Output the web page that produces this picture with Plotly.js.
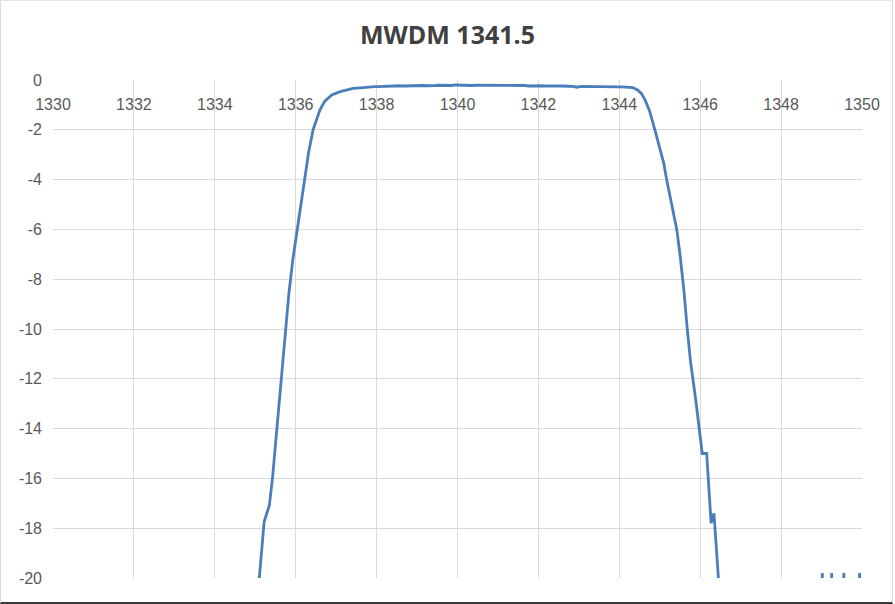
<!DOCTYPE html>
<html>
<head>
<meta charset="utf-8">
<script src="https://cdn.plot.ly/plotly-3.0.1.min.js"></script>
<style>
  html, body { margin: 0; padding: 0; background: #fff; }
  #wrap { position: relative; width: 895px; height: 604px; }
  #chart { width: 895px; height: 604px; }
  #frame { position: absolute; left: 0; top: 0; width: 893px; height: 604px;
           border-left: 1px solid #d9d9d9; border-right: 1px solid #d9d9d9; border-top: 1px solid #e6e6e6;
           border-bottom: 2px solid #3a3a3a; pointer-events: none; box-sizing: border-box; }
</style>
</head>
<body>
<div id="wrap"><div id="chart"></div><div id="frame"></div></div>
<script>
// Wavelength (nm)
const wavelength = [
  1335.00, 1335.10, 1335.22, 1335.35, 1335.43, 1335.55, 1335.65, 1335.74, 1335.83, 1335.93,
  1336.03, 1336.13, 1336.21, 1336.32, 1336.43, 1336.52, 1336.60, 1336.72, 1336.89, 1337.10,
  1337.25, 1337.42, 1337.60, 1337.70, 1337.84, 1337.95, 1338.05, 1338.15, 1338.25, 1338.35,
  1338.45, 1338.55, 1338.65, 1338.75, 1338.85, 1338.95, 1339.05, 1339.15, 1339.25, 1339.35,
  1339.45, 1339.55, 1339.65, 1339.75, 1339.85, 1339.95, 1340.05, 1340.15, 1340.25, 1340.35,
  1340.45, 1340.55, 1340.65, 1340.75, 1340.85, 1340.95, 1341.05, 1341.15, 1341.25, 1341.35,
  1341.45, 1341.55, 1341.65, 1341.75, 1341.85, 1341.95, 1342.05, 1342.15, 1342.25, 1342.35,
  1342.45, 1342.55, 1342.65, 1342.75, 1342.85, 1342.95, 1343.05, 1343.15, 1343.25, 1343.35,
  1343.45, 1343.55, 1343.65, 1343.75, 1343.85, 1343.95, 1344.05, 1344.15, 1344.25, 1344.34,
  1344.45, 1344.55, 1344.65, 1344.75, 1344.88,
  1345.00, 1345.10, 1345.17, 1345.30, 1345.42, 1345.50, 1345.60, 1345.68, 1345.76, 1345.89,
  1345.97, 1346.05, 1346.16, 1346.27, 1346.34, 1346.45, 1346.50,
  1349.00, 1349.02, 1349.04, 1349.23, 1349.25, 1349.27, 1349.53, 1349.55, 1349.57, 1349.92, 1349.94, 1349.96
];
// Insertion loss (dB)
const loss = [
  -25.0, -20.0, -17.74, -17.07, -15.93, -13.65, -11.8, -10.0, -8.6, -7.2,
  -6.1, -4.82, -4.0, -2.9, -2.0, -1.55, -1.2, -0.85, -0.6, -0.47,
  -0.40, -0.34, -0.32, -0.30, -0.29, -0.27, -0.27, -0.26, -0.26, -0.25,
  -0.25, -0.23, -0.24, -0.23, -0.22, -0.23, -0.22, -0.22, -0.23, -0.21,
  -0.22, -0.21, -0.22, -0.21, -0.22, -0.20, -0.21, -0.21, -0.20, -0.22,
  -0.21, -0.21, -0.22, -0.20, -0.21, -0.22, -0.21, -0.22, -0.21, -0.23,
  -0.22, -0.23, -0.22, -0.24, -0.23, -0.24, -0.23, -0.24, -0.23, -0.25,
  -0.24, -0.24, -0.26, -0.25, -0.26, -0.29, -0.26, -0.27, -0.26, -0.27,
  -0.27, -0.27, -0.28, -0.27, -0.28, -0.28, -0.28, -0.28, -0.29, -0.31,
  -0.40, -0.55, -0.85, -1.25, -2.0,
  -2.7, -3.35, -4.0, -5.0, -6.0, -7.0, -8.5, -10.0, -11.3, -12.85,
  -13.9, -15.0, -15.0, -17.8, -17.4, -20.0, -25.0,
  -25.0, -19.8, -25.0, -25.0, -19.8, -25.0, -25.0, -19.8, -25.0, -25.0, -19.8, -25.0
];
const xTicks = [1330, 1332, 1334, 1336, 1338, 1340, 1342, 1344, 1346, 1348, 1350];
const yTicks = [0, -2, -4, -6, -8, -10, -12, -14, -16, -18, -20];

const tickFont = {family: 'Liberation Sans, Arial, sans-serif', size: 16, color: '#595959'};

Plotly.newPlot('chart', [{
  x: wavelength, y: loss, type: 'scatter', mode: 'lines',
  line: {color: '#4A7EBB', width: 2.8}, hoverinfo: 'skip'
}], {
  width: 895, height: 604,
  margin: {l: 53, r: 33, t: 80, b: 26},
  paper_bgcolor: '#ffffff', plot_bgcolor: '#ffffff',
  showlegend: false,
  title: {
    text: '<b>MWDM 1341.5</b>',
    font: {family: 'Open Sans, Liberation Sans, sans-serif', size: 25, color: '#404040'},
    x: 0.5, xref: 'container', y: 1 - 35/604, yref: 'container', xanchor: 'center', yanchor: 'middle'
  },
  xaxis: {
    range: [1330, 1350], tickvals: xTicks, ticktext: xTicks.map(String),
    side: 'top', ticklabelposition: 'inside', ticklabeloverflow: 'allow',
    ticklabelstandoff: 16,
    showgrid: true, gridcolor: '#d9d9d9', gridwidth: 1,
    zeroline: false, showline: false, ticks: '',
    tickfont: tickFont, fixedrange: true
  },
  yaxis: {
    range: [-20, 0], tickvals: yTicks, ticktext: yTicks.map(String),
    showgrid: true, gridcolor: '#d9d9d9', gridwidth: 1,
    zeroline: false, showline: false, ticks: '',
    ticklabelstandoff: 10,
    tickfont: tickFont, fixedrange: true
  }
}, {displayModeBar: false, staticPlot: true});
</script>
</body>
</html>
